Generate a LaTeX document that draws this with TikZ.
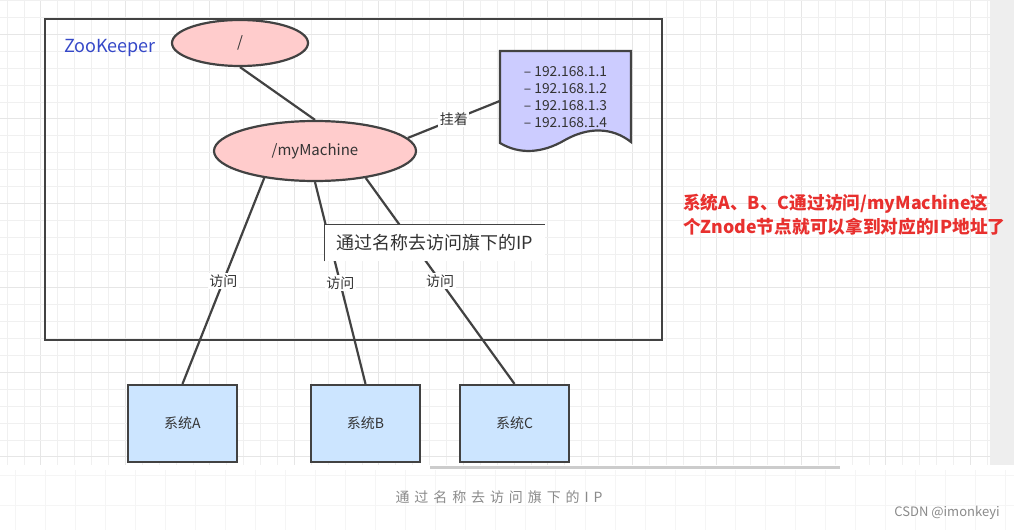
\documentclass[tikz,border=0pt]{standalone}
\usepackage{fontspec}
\setmainfont{Noto Sans CJK SC}
\usetikzlibrary{shapes.geometric,calc}
\definecolor{edgec}{HTML}{424242}
\definecolor{pinkc}{HTML}{FFCCCC}
\definecolor{bluec}{HTML}{CCE5FF}
\definecolor{lavc}{HTML}{CCCCFF}
\definecolor{gridc}{HTML}{F0F0F0}
\definecolor{gridm}{HTML}{E6E6E6}
\definecolor{zkblue}{HTML}{3548C8}
\definecolor{redc}{HTML}{E8302E}
\definecolor{txtc}{HTML}{333333}
\definecolor{capc}{HTML}{8A8A8A}
\begin{document}
\begin{tikzpicture}[x=1pt,y=-1pt,
  conn/.style={draw=edgec,line width=2.2},
  ell/.style={ellipse,draw=edgec,line width=2.2,fill=pinkc,inner sep=0,text=txtc},
  sysbox/.style={rectangle,draw=edgec,line width=2.2,fill=bluec,minimum width=109,minimum height=77,inner sep=0,text=txtc,font=\fontsize{14}{16}\selectfont},
  lbl/.style={fill=white,inner sep=1.5,text=txtc,font=\fontsize{14}{15}\selectfont}]
\useasboundingbox (0,0) rectangle (1014,530);
\fill[white] (0,0) rectangle (1014,530);
% background grid
\foreach \i in {0,...,58}{
  \pgfmathtruncatemacro{\m}{mod(\i,5)}
  \ifnum\m=2 \draw[gridm,line width=0.9] ({7+\i*16.9},0) -- ({7+\i*16.9},465);
  \else \draw[gridc,line width=0.8] ({7+\i*16.9},0) -- ({7+\i*16.9},465); \fi}
\foreach \j in {0,...,27}{
  \pgfmathtruncatemacro{\m}{mod(\j,5)}
  \ifnum\m=2 \draw[gridm,line width=0.9] (0,{0.5+\j*16.9}) -- (990,{0.5+\j*16.9});
  \else \draw[gridc,line width=0.8] (0,{0.5+\j*16.9}) -- (990,{0.5+\j*16.9}); \fi}
\foreach \i in {0,...,33} \draw[gridc!70,line width=0.6] ({15+\i*30},470) -- ({15+\i*30},530);
\foreach \j in {0,1} \draw[gridc!70,line width=0.6] (0,{475+\j*30}) -- (1014,{475+\j*30});
\fill[gray!13] (990,0) rectangle (1014,465);
% ZooKeeper frame
\draw[edgec,line width=2.2] (45,19) rectangle (662,340);
\node[text=zkblue,font=\fontsize{18}{20}\selectfont] (zk) at (110,48) {ZooKeeper};
% ellipses
\node[ell,minimum width=136,minimum height=46,font=\fontsize{15}{17}\selectfont] (root) at (240,43) {/};
\node[ell,minimum width=202,minimum height=60,font=\fontsize{15}{17}\selectfont] (mm) at (315,151) {/myMachine};
% document
\fill[lavc,draw=edgec,line width=2.2] (500,51) -- (631,51) -- (631,142)
  .. controls (612,127) and (588,127) .. (565,140)
  .. controls (543,153) and (520,155) .. (500,143) -- cycle;
\node[minimum width=131,minimum height=80,inner sep=0,align=center,text=txtc,
  font=\fontsize{13.8}{17}\selectfont] (doc) at (565.5,97)
  {– 192.168.1.1\\– 192.168.1.2\\– 192.168.1.3\\– 192.168.1.4};
% systems
\node[sysbox] (sysA) at (182.5,423.5) {系统A};
\node[sysbox] (sysB) at (365.5,423.5) {系统B};
\node[sysbox] (sysC) at (514.5,423.5) {系统C};
% connectors
\draw[conn] (root.south) -- (mm.north);
\draw[conn] (mm.8) -- ($(doc.west)+(0,4)$) node[lbl,midway] (l0) {挂着};
\draw[conn] (mm.208) -- (sysA.north) node[lbl,midway] (l1) {访问};
\draw[conn] (mm.south) -- (sysB.north) node[lbl,midway] (l2) {访问};
\draw[conn] (mm.-28) -- (sysC.north) node[lbl,midway] (l3) {访问};
% tooltip
\node[fill=white,minimum width=221,minimum height=37,inner sep=0,anchor=north west] (tip) at (324,224) {};
\draw[edgec,line width=1] (tip.south west) -- (tip.north west) -- (tip.north east);
\node[anchor=west,inner sep=0,text=txtc,font=\fontsize{18}{20}\selectfont] (tiptext) at ($(tip.west)+(12,0)$) {通过名称去访问旗下的IP};
% red note
\node[anchor=base west,inner sep=0,text=redc,font=\bfseries\fontsize{17.7}{20}\selectfont] (note1) at (683,209) {系统A、B、C通过访问/myMachine这};
\node[anchor=base west,inner sep=0,text=redc,font=\bfseries\fontsize{17.7}{20}\selectfont] (note2) at (683,233) {个Znode节点就可以拿到对应的IP地址了};
% bottom
\draw[gray!40,line width=3] (430,467) -- (840,467);
\node[text=capc,font=\addfontfeature{LetterSpace=35}\fontsize{14}{16}\selectfont] (cap) at (499,497) {通过名称去访问旗下的IP};
\node[text=capc,font=\fontsize{13}{15}\selectfont] (csdn) at (947,513) {CSDN @imonkeyi};
\end{tikzpicture}
\end{document}
